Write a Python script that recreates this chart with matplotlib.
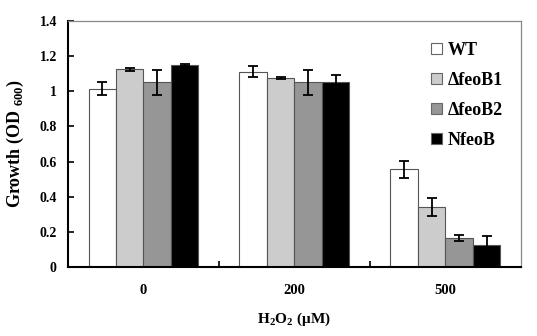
import matplotlib.pyplot as plt
import numpy as np

categories = ["0", "200", "500"]
strains = ["WT", "\u0394feoB1", "\u0394feoB2", "NfeoB"]
growth = {
    "WT": [1.013, 1.112, 0.556],
    "\u0394feoB1": [1.125, 1.074, 0.340],
    "\u0394feoB2": [1.051, 1.051, 0.163],
    "NfeoB": [1.150, 1.055, 0.127],
}
errors = {
    "WT": [0.037, 0.031, 0.048],
    "\u0394feoB1": [0.008, 0.005, 0.050],
    "\u0394feoB2": [0.072, 0.072, 0.017],
    "NfeoB": [0.005, 0.040, 0.050],
}
colors = ["white", "#cccccc", "#969696", "black"]

plt.rcParams["font.family"] = ["Liberation Serif", "DejaVu Serif"]
plt.rcParams["font.weight"] = "bold"
plt.rcParams["mathtext.fontset"] = "custom"
plt.rcParams["mathtext.bf"] = "Liberation Serif:bold"
plt.rcParams["mathtext.rm"] = "Liberation Serif:bold"

fig = plt.figure(figsize=(5.37, 3.36), dpi=100)
ax = fig.add_axes([0.1266, 0.2054, 0.8434, 0.7321])

x = np.arange(len(categories))
width = 0.182
for i, s in enumerate(strains):
    ax.bar(x + (i - 1.5) * width, growth[s], width, color=colors[i],
           edgecolor="#555555", linewidth=0.8, label=s,
           yerr=errors[s], capsize=3.5,
           error_kw=dict(ecolor="black", elinewidth=1.3, capthick=1.3))

ax.set_xlim(-0.5, 2.5)
ax.set_ylim(0, 1.4)
ax.set_yticks(np.arange(0, 1.41, 0.2))
ax.set_yticklabels(["0", "0.2", "0.4", "0.6", "0.8", "1", "1.2", "1.4"],
                   fontsize=10, fontweight="bold")
ax.set_xticks(x)
ax.set_xticklabels(categories, fontsize=10.5, fontweight="bold")
ax.tick_params(axis="x", length=0, pad=12)
ax.set_xticks([0.5, 1.5], minor=True)
ax.tick_params(axis="x", which="minor", direction="in", length=4, width=1.2)
ax.tick_params(axis="y", direction="in", length=4, width=1.2, pad=8)

for side in ["top", "right"]:
    ax.spines[side].set_color("#888888")
    ax.spines[side].set_linewidth(0.9)
for side in ["left", "bottom"]:
    ax.spines[side].set_color("black")
    ax.spines[side].set_linewidth(1.5)

ax.set_ylabel("Growth (OD $_{600}$)", fontsize=13, fontweight="bold",
              labelpad=10)
ax.set_xlabel("H$_{2}$O$_{2}$ (\u03bcM)", fontsize=11,
              fontweight="bold", labelpad=10)

leg = ax.legend(loc="upper left", bbox_to_anchor=(0.765, 0.982), frameon=False,
                fontsize=13, handlelength=0.6, handleheight=0.6,
                handletextpad=0.35, labelspacing=0.72)
for t in leg.get_texts():
    t.set_fontweight("bold")
for h in leg.legend_handles:
    h.set_edgecolor("#666666")

fig.savefig("out.png", dpi=100)
